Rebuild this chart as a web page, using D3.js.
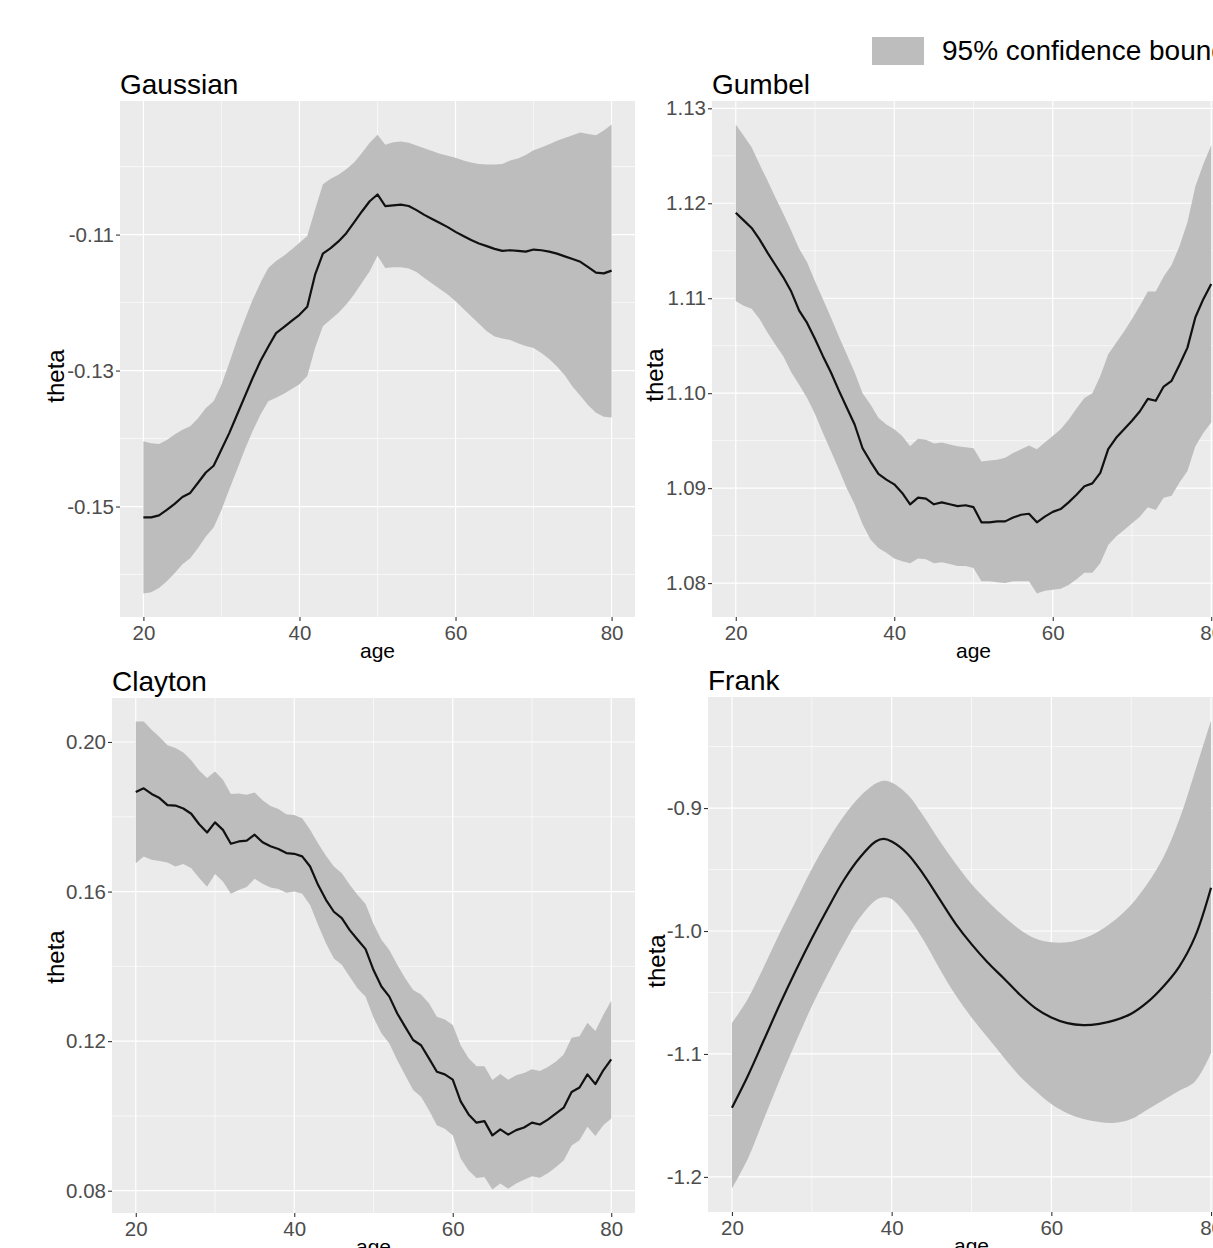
<!DOCTYPE html>
<html>
<head>
<meta charset="utf-8">
<script src="https://cdn.jsdelivr.net/npm/d3@7"></script>
<style>
  body { margin: 0; background: #fff; }
  svg { display: block; font-family: "Liberation Sans", Arial, sans-serif; }
</style>
</head>
<body>
<div id="chart-area"></div>
<script>
// ---- data ----
var ages = [20, 21, 22, 23, 24, 25, 26, 27, 28, 29,
            30, 31, 32, 33, 34, 35, 36, 37, 38, 39,
            40, 41, 42, 43, 44, 45, 46, 47, 48, 49,
            50, 51, 52, 53, 54, 55, 56, 57, 58, 59,
            60, 61, 62, 63, 64, 65, 66, 67, 68, 69,
            70, 71, 72, 73, 74, 75, 76, 77, 78, 79, 80];

var gaussFit = [-0.1516, -0.1516, -0.1513, -0.1505, -0.1496, -0.1486, -0.1480, -0.1465, -0.1450, -0.1440,
                -0.1416, -0.1392, -0.1365, -0.1338, -0.1311, -0.1286, -0.1265, -0.1245, -0.1236, -0.1227,
                -0.1218, -0.1206, -0.1159, -0.1128, -0.1120, -0.1110, -0.1098, -0.1082, -0.1066, -0.1051,
                -0.1041, -0.1058, -0.1057, -0.1056, -0.1058, -0.1064, -0.1071, -0.1077, -0.1083, -0.1089,
                -0.1096, -0.1102, -0.1108, -0.1113, -0.1117, -0.1121, -0.1124, -0.1123, -0.1124, -0.1125,
                -0.1122, -0.1123, -0.1125, -0.1128, -0.1132, -0.1136, -0.1140, -0.1148, -0.1156, -0.1157, -0.1153];
var gaussUpper = [-0.1404, -0.1407, -0.1408, -0.1402, -0.1394, -0.1387, -0.1382, -0.1370, -0.1355, -0.1345,
                  -0.1321, -0.1289, -0.1255, -0.1225, -0.1196, -0.1171, -0.1149, -0.1139, -0.1131, -0.1122,
                  -0.1112, -0.1102, -0.1063, -0.1026, -0.1018, -0.1012, -0.1004, -0.0994, -0.0980, -0.0965,
                  -0.0953, -0.0968, -0.0964, -0.0963, -0.0965, -0.0969, -0.0973, -0.0977, -0.0981, -0.0984,
                  -0.0987, -0.0991, -0.0994, -0.0996, -0.0997, -0.0997, -0.0996, -0.0991, -0.0988, -0.0983,
                  -0.0976, -0.0972, -0.0967, -0.0962, -0.0958, -0.0954, -0.0950, -0.0952, -0.0954, -0.0947, -0.0938];
var gaussLower = [-0.1628, -0.1626, -0.1620, -0.1610, -0.1598, -0.1585, -0.1576, -0.1561, -0.1544, -0.1531,
                  -0.1505, -0.1475, -0.1446, -0.1416, -0.1389, -0.1365, -0.1345, -0.1340, -0.1334, -0.1327,
                  -0.1320, -0.1308, -0.1267, -0.1235, -0.1225, -0.1215, -0.1203, -0.1188, -0.1171, -0.1154,
                  -0.1131, -0.1149, -0.1148, -0.1148, -0.1150, -0.1155, -0.1164, -0.1172, -0.1180, -0.1188,
                  -0.1198, -0.1209, -0.1220, -0.1231, -0.1242, -0.1250, -0.1253, -0.1255, -0.1260, -0.1264,
                  -0.1267, -0.1274, -0.1283, -0.1294, -0.1307, -0.1324, -0.1337, -0.1351, -0.1362, -0.1368, -0.1369];

var gumbelFit = [1.1190, 1.1182, 1.1174, 1.1162, 1.1148, 1.1135, 1.1122, 1.1107, 1.1087, 1.1074,
                 1.1057, 1.1039, 1.1022, 1.1003, 1.0985, 1.0967, 1.0942, 1.0928, 1.0915, 1.0909,
                 1.0904, 1.0895, 1.0883, 1.0890, 1.0889, 1.0883, 1.0885, 1.0883, 1.0881, 1.0882,
                 1.0880, 1.0864, 1.0864, 1.0865, 1.0865, 1.0869, 1.0872, 1.0873, 1.0864, 1.0870,
                 1.0875, 1.0878, 1.0885, 1.0893, 1.0902, 1.0905, 1.0916, 1.0941, 1.0953, 1.0962,
                 1.0971, 1.0981, 1.0994, 1.0992, 1.1007, 1.1013, 1.1030, 1.1048, 1.1080, 1.1099, 1.1115];
var gumbelUpper = [1.1283, 1.1271, 1.1259, 1.1241, 1.1224, 1.1206, 1.1189, 1.1171, 1.1152, 1.1138,
                   1.1118, 1.1099, 1.1080, 1.1060, 1.1041, 1.1022, 1.1000, 1.0988, 1.0974, 1.0967,
                   1.0962, 1.0955, 1.0944, 1.0952, 1.0951, 1.0947, 1.0948, 1.0946, 1.0944, 1.0943,
                   1.0942, 1.0928, 1.0929, 1.0930, 1.0932, 1.0937, 1.0941, 1.0945, 1.0941, 1.0948,
                   1.0955, 1.0962, 1.0972, 1.0984, 1.0995, 1.1000, 1.1018, 1.1041, 1.1053, 1.1065,
                   1.1078, 1.1092, 1.1107, 1.1107, 1.1123, 1.1135, 1.1155, 1.1180, 1.1218, 1.1241, 1.1261];
var gumbelLower = [1.1097, 1.1092, 1.1089, 1.1078, 1.1064, 1.1051, 1.1039, 1.1022, 1.1009, 1.0995,
                   1.0978, 1.0958, 1.0939, 1.0920, 1.0900, 1.0883, 1.0862, 1.0846, 1.0837, 1.0832,
                   1.0826, 1.0823, 1.0821, 1.0826, 1.0825, 1.0821, 1.0822, 1.0820, 1.0818, 1.0818,
                   1.0816, 1.0802, 1.0802, 1.0801, 1.0800, 1.0802, 1.0802, 1.0802, 1.0789, 1.0792,
                   1.0793, 1.0794, 1.0798, 1.0804, 1.0811, 1.0811, 1.0821, 1.0840, 1.0849, 1.0856,
                   1.0863, 1.0870, 1.0880, 1.0877, 1.0890, 1.0892, 1.0906, 1.0918, 1.0944, 1.0958, 1.0969];

var claytonFit = [0.1866, 0.1876, 0.1861, 0.1850, 0.1831, 0.1830, 0.1822, 0.1808, 0.1780, 0.1758,
                  0.1785, 0.1765, 0.1728, 0.1734, 0.1736, 0.1752, 0.1732, 0.1721, 0.1714, 0.1703,
                  0.1701, 0.1694, 0.1667, 0.1618, 0.1578, 0.1546, 0.1529, 0.1497, 0.1471, 0.1446,
                  0.1390, 0.1346, 0.1319, 0.1274, 0.1238, 0.1203, 0.1189, 0.1154, 0.1118, 0.1111,
                  0.1097, 0.1039, 0.1004, 0.0982, 0.0986, 0.0948, 0.0964, 0.0950, 0.0962, 0.0969,
                  0.0982, 0.0977, 0.0990, 0.1006, 0.1022, 0.1064, 0.1076, 0.1111, 0.1085, 0.1122, 0.1151];
var claytonUpper = [0.2055, 0.2055, 0.2033, 0.2013, 0.1991, 0.1984, 0.1972, 0.1951, 0.1924, 0.1904,
                    0.1921, 0.1899, 0.1861, 0.1862, 0.1859, 0.1865, 0.1844, 0.1829, 0.1821, 0.1807,
                    0.1805, 0.1796, 0.1765, 0.1729, 0.1696, 0.1667, 0.1649, 0.1618, 0.1591, 0.1567,
                    0.1513, 0.1471, 0.1444, 0.1404, 0.1368, 0.1337, 0.1325, 0.1301, 0.1265, 0.1258,
                    0.1243, 0.1189, 0.1154, 0.1133, 0.1133, 0.1096, 0.1112, 0.1097, 0.1109, 0.1115,
                    0.1125, 0.1120, 0.1131, 0.1145, 0.1164, 0.1209, 0.1213, 0.1249, 0.1227, 0.1270, 0.1308];
var claytonLower = [0.1676, 0.1694, 0.1685, 0.1682, 0.1678, 0.1667, 0.1674, 0.1662, 0.1636, 0.1613,
                    0.1647, 0.1627, 0.1594, 0.1604, 0.1612, 0.1634, 0.1621, 0.1611, 0.1607, 0.1597,
                    0.1600, 0.1594, 0.1564, 0.1511, 0.1462, 0.1421, 0.1404, 0.1372, 0.1341, 0.1319,
                    0.1263, 0.1221, 0.1194, 0.1149, 0.1109, 0.1069, 0.1051, 0.1015, 0.0975, 0.0966,
                    0.0948, 0.0886, 0.0854, 0.0834, 0.0837, 0.0803, 0.0819, 0.0805, 0.0819, 0.0829,
                    0.0839, 0.0835, 0.0847, 0.0863, 0.0881, 0.0921, 0.0935, 0.0971, 0.0946, 0.0975, 0.0993];

var frankAges = [20, 22, 24, 26, 28, 30, 32, 34, 36, 38, 39, 40, 42, 44, 46, 48,
                 50, 52, 54, 56, 58, 60, 62, 64, 66, 68, 70, 72, 74, 76, 78, 80];
var frankFit = [-1.1437, -1.1177, -1.0887, -1.0596, -1.0321, -1.0061, -0.9817, -0.9587, -0.9404, -0.9272, -0.9251, -0.9272, -0.9373, -0.9541, -0.9740, -0.9939,
                -1.0107, -1.0254, -1.0382, -1.0514, -1.0627, -1.0703, -1.0749, -1.0765, -1.0755, -1.0725, -1.0673, -1.0581, -1.0453, -1.0291, -1.0046, -0.9648];
var frankUpper = [-1.0749, -1.0550, -1.0291, -1.0015, -0.9755, -0.9495, -0.9266, -0.9067, -0.8908, -0.8801, -0.8777, -0.8792, -0.8890, -0.9067, -0.9266, -0.9450,
                  -0.9618, -0.9755, -0.9878, -0.9985, -1.0061, -1.0092, -1.0092, -1.0061, -1.0000, -0.9908, -0.9786, -0.9618, -0.9404, -0.9098, -0.8700, -0.8287];
var frankLower = [-1.2095, -1.1850, -1.1529, -1.1208, -1.0902, -1.0612, -1.0352, -1.0107, -0.9893, -0.9749, -0.9725, -0.9740, -0.9878, -1.0076, -1.0306, -1.0520,
                  -1.0703, -1.0865, -1.1024, -1.1177, -1.1300, -1.1407, -1.1483, -1.1529, -1.1554, -1.1560, -1.1529, -1.1453, -1.1376, -1.1300, -1.1223, -1.0994];

var xTicks = [20, 40, 60, 80];
var xMinor = [30, 50, 70];
var gaussTicks = [-0.15, -0.13, -0.11];
var gaussMinor = [-0.16, -0.14, -0.12, -0.10];
var gumbelTicks = [1.08, 1.09, 1.10, 1.11, 1.12, 1.13];
var gumbelMinor = [1.085, 1.095, 1.105, 1.115, 1.125];
var claytonTicks = [0.08, 0.12, 0.16, 0.20];
var claytonMinor = [0.10, 0.14, 0.18];
var frankTicks = [-1.2, -1.1, -1.0, -0.9];
var frankMinor = [-1.15, -1.05, -0.95, -0.85];

var legendLabel = "95% confidence bounds";

// ---- layout ----
var width = 1213;
var height = 1248;

var svg = d3.select("#chart-area")
    .append("svg")
    .attr("width", width)
    .attr("height", height);

// plain hyphen for negatives, like R does
function fmt(spec) {
    var f = d3.format(spec);
    return d => f(d).replace("\u2212", "-");
}

var panels = [
    { title: "Gaussian", ages: ages, fit: gaussFit, lo: gaussLower, hi: gaussUpper,
      ticks: gaussTicks, minor: gaussMinor, fmt: fmt(".2f"), curve: d3.curveLinear,
      left: 120, right: 635, top: 101, bottom: 617, thetaX: 64, thetaY: 376 },
    { title: "Gumbel", ages: ages, fit: gumbelFit, lo: gumbelLower, hi: gumbelUpper,
      ticks: gumbelTicks, minor: gumbelMinor, fmt: fmt(".2f"), curve: d3.curveLinear,
      left: 712, right: 1235, top: 101, bottom: 617, thetaX: 663, thetaY: 375 },
    { title: "Clayton", ages: ages, fit: claytonFit, lo: claytonLower, hi: claytonUpper,
      ticks: claytonTicks, minor: claytonMinor, fmt: fmt(".2f"), curve: d3.curveLinear,
      left: 112, right: 635, top: 698, bottom: 1213, thetaX: 64, thetaY: 957 },
    { title: "Frank", ages: frankAges, fit: frankFit, lo: frankLower, hi: frankUpper,
      ticks: frankTicks, minor: frankMinor, fmt: fmt(".1f"), curve: d3.curveCatmullRom,
      left: 708, right: 1235, top: 697, bottom: 1212, thetaX: 665, thetaY: 961 }
];

// ggplot-like 5% expansion
function expand(lo, hi) {
    var pad = (hi - lo) * 0.05;
    return [lo - pad, hi + pad];
}

panels.forEach(function (p) {
    var rows = p.ages.map(function (a, i) {
        return { age: a, fit: p.fit[i], lo: p.lo[i], hi: p.hi[i] };
    });

    var x = d3.scaleLinear()
        .domain(expand(d3.min(p.ages), d3.max(p.ages)))
        .range([p.left, p.right]);

    var y = d3.scaleLinear()
        .domain(expand(d3.min(p.lo), d3.max(p.hi)))
        .range([p.bottom, p.top]);

    var g = svg.append("g");

    // panel background
    g.append("rect")
        .attr("x", p.left)
        .attr("y", p.top)
        .attr("width", p.right - p.left)
        .attr("height", p.bottom - p.top)
        .attr("fill", "#ebebeb");

    var yDom = y.domain();
    var inY = function (v) { return v >= yDom[0] && v <= yDom[1]; };

    // minor grid
    g.selectAll(".xminor").data(xMinor).enter().append("line")
        .attr("x1", d => x(d)).attr("x2", d => x(d))
        .attr("y1", p.top).attr("y2", p.bottom)
        .attr("stroke", "#fff").attr("stroke-width", 0.6);
    g.selectAll(".yminor").data(p.minor.filter(inY)).enter().append("line")
        .attr("x1", p.left).attr("x2", p.right)
        .attr("y1", d => y(d)).attr("y2", d => y(d))
        .attr("stroke", "#fff").attr("stroke-width", 0.6);

    // major grid
    g.selectAll(".xmajor").data(xTicks).enter().append("line")
        .attr("x1", d => x(d)).attr("x2", d => x(d))
        .attr("y1", p.top).attr("y2", p.bottom)
        .attr("stroke", "#fff").attr("stroke-width", 1.2);
    g.selectAll(".ymajor").data(p.ticks).enter().append("line")
        .attr("x1", p.left).attr("x2", p.right)
        .attr("y1", d => y(d)).attr("y2", d => y(d))
        .attr("stroke", "#fff").attr("stroke-width", 1.2);

    // confidence ribbon
    var area = d3.area()
        .curve(p.curve)
        .x(d => x(d.age))
        .y0(d => y(d.lo))
        .y1(d => y(d.hi));
    g.append("path")
        .datum(rows)
        .attr("d", area)
        .attr("fill", "#bdbdbd");

    // estimate line
    var line = d3.line()
        .curve(p.curve)
        .x(d => x(d.age))
        .y(d => y(d.fit));
    g.append("path")
        .datum(rows)
        .attr("d", line)
        .attr("fill", "none")
        .attr("stroke", "#111")
        .attr("stroke-width", 2.2)
        .attr("stroke-linejoin", "round");

    // axes
    var yAxis = d3.axisLeft(y)
        .tickValues(p.ticks)
        .tickFormat(p.fmt)
        .tickSize(4)
        .tickPadding(2);
    var ya = g.append("g")
        .attr("transform", `translate(${p.left}, 0)`)
        .call(yAxis);

    var xAxis = d3.axisBottom(x)
        .tickValues(xTicks)
        .tickFormat(d3.format("d"))
        .tickSize(4)
        .tickPadding(4);
    var xa = g.append("g")
        .attr("transform", `translate(0, ${p.bottom})`)
        .call(xAxis);

    [ya, xa].forEach(function (a) {
        a.select(".domain").remove();
        a.selectAll(".tick line").attr("stroke", "#333").attr("stroke-width", 1.1);
        a.selectAll(".tick text")
            .attr("fill", "#4d4d4d")
            .attr("font-size", "20.5px")
            .attr("font-family", "'Liberation Sans', Arial, sans-serif");
    });

    // titles
    g.append("text")
        .attr("x", p.left)
        .attr("y", p.top - 7)
        .attr("font-size", "28px")
        .attr("fill", "#000")
        .text(p.title);

    g.append("text")
        .attr("x", (p.left + p.right) / 2)
        .attr("y", p.bottom + 41)
        .attr("text-anchor", "middle")
        .attr("font-size", "21px")
        .attr("fill", "#000")
        .text("age");

    g.append("text")
        .attr("transform", `translate(${p.thetaX}, ${p.thetaY}) rotate(-90)`)
        .attr("text-anchor", "middle")
        .attr("font-size", "24px")
        .attr("fill", "#000")
        .text("theta");
});

// legend
var legend = svg.append("g");
legend.append("rect")
    .attr("x", 872)
    .attr("y", 37)
    .attr("width", 52)
    .attr("height", 28)
    .attr("fill", "#bdbdbd");
legend.append("text")
    .attr("x", 942)
    .attr("y", 60)
    .attr("font-size", "28px")
    .attr("fill", "#000")
    .text(legendLabel);
</script>
</body>
</html>
